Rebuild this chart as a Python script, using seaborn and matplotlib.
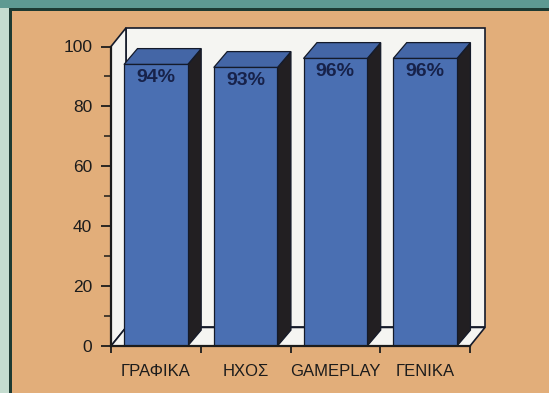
import matplotlib
matplotlib.use("Agg")
import matplotlib.pyplot as plt
import seaborn as sns
import pandas as pd
from matplotlib.patches import Polygon, Rectangle
from matplotlib.ticker import FixedLocator

# Review scores
categories = ["ΓΡΑΦΙΚΑ", "ΗΧΟΣ", "GAMEPLAY", "ΓΕΝΙΚΑ"]
scores = [94, 93, 96, 96]
score_labels = ["94%", "93%", "96%", "96%"]
y_ticks = [0, 20, 40, 60, 80, 100]
y_minor_ticks = [10, 30, 50, 70, 90]

TAN = "#e2ae7a"
TEAL = "#5e9a92"
PALE = "#c4dccf"
BORDER_DARK = "#1d3a32"
BLUE = "#4a6fb2"
BLUE_TOP = "#4466a6"
SIDE = "#221f22"
EDGE = "#141a2a"
WALL = "#f5f5f2"
INK = "#1c1c1c"

sns.set_theme(style="white")
plt.rcParams["font.family"] = ["Liberation Sans", "DejaVu Sans"]

fig = plt.figure(figsize=(5.49, 3.93), dpi=100)
fig.patch.set_facecolor(TAN)

W, H = 549.0, 393.0
# page border: teal band on top, pale band on the left, dark rule inside
fig.patches.append(Rectangle((0, 1 - 8 / H), 1, 8 / H, transform=fig.transFigure,
                             facecolor=TEAL, edgecolor="none", zorder=0))
fig.patches.append(Rectangle((0, 0), 9 / W, 1 - 8 / H, transform=fig.transFigure,
                             facecolor=PALE, edgecolor="none", zorder=0))
fig.patches.append(Rectangle((9 / W, 1 - 10.5 / H), 1, 2.5 / H, transform=fig.transFigure,
                             facecolor=BORDER_DARK, edgecolor="none", zorder=0))
fig.patches.append(Rectangle((9 / W, 0), 3 / W, 1 - 8 / H, transform=fig.transFigure,
                             facecolor=BORDER_DARK, edgecolor="none", zorder=0))

# axes: x from -0.5 (px 111) with 89.75 px per category, y 0 at px 346, 2.995 px per unit
x_lo, x_hi = -0.5, 3.72
y_lo, y_hi = 0, 108
px_x = 89.75
px_y = 2.995
left = 111
bottom = 346
ax = fig.add_axes([left / W, (H - bottom) / H,
                   (x_hi - x_lo) * px_x / W, (y_hi - y_lo) * px_y / H])
ax.set_facecolor("none")

df = pd.DataFrame({"category": categories, "score": scores})
sns.barplot(data=df, x="category", y="score", ax=ax, color=BLUE, saturation=1,
            width=0.71, edgecolor=EDGE, linewidth=0.9, zorder=3)

ax.set_xlim(x_lo, x_hi)
ax.set_ylim(y_lo, y_hi)

# back wall, side wall and floor
wdx, wdy = 0.167, 6.2
wall_kw = dict(facecolor=WALL, edgecolor=EDGE, linewidth=1.2, zorder=1, clip_on=False)
ax.add_patch(Polygon([(-0.5 + wdx, wdy), (3.5 + wdx, wdy), (3.5 + wdx, 100 + wdy),
                      (-0.5 + wdx, 100 + wdy)], **wall_kw))
ax.add_patch(Polygon([(-0.5, 0), (-0.5 + wdx, wdy), (-0.5 + wdx, 100 + wdy),
                      (-0.5, 100)], **wall_kw))
ax.add_patch(Polygon([(-0.5, 0), (3.5, 0), (3.5 + wdx, wdy), (-0.5 + wdx, wdy)], **wall_kw))

# depth faces and value labels on each bar
bdx, bdy = 0.15, 5.3
bars = list(ax.patches[:len(scores)])
for bar, label in zip(bars, score_labels):
    x0 = bar.get_x()
    w = bar.get_width()
    h = bar.get_height()
    ax.add_patch(Polygon([(x0 + w, 0), (x0 + w + bdx, bdy), (x0 + w + bdx, h + bdy), (x0 + w, h)],
                         facecolor=SIDE, edgecolor=EDGE, linewidth=0.9, zorder=2.9))
    ax.add_patch(Polygon([(x0, h), (x0 + w, h), (x0 + w + bdx, h + bdy), (x0 + bdx, h + bdy)],
                         facecolor=BLUE_TOP, edgecolor=EDGE, linewidth=0.9, zorder=2.9))
    ax.text(x0 + w / 2, h - 4.4, label, ha="center", va="center", fontsize=14,
            fontweight="bold", color="#17224a", zorder=4)

# spines
for s in ["top", "right"]:
    ax.spines[s].set_visible(False)
for s in ["left", "bottom"]:
    ax.spines[s].set_color(INK)
    ax.spines[s].set_linewidth(1.6)
    ax.spines[s].set_zorder(5)
ax.spines["left"].set_bounds(0, 100)
ax.spines["bottom"].set_bounds(-0.5, 3.5)

# y ticks
ax.yaxis.set_major_locator(FixedLocator(y_ticks))
ax.yaxis.set_minor_locator(FixedLocator(y_minor_ticks))
ax.set_yticklabels([str(v) for v in y_ticks])
ax.tick_params(axis="y", which="major", direction="out", length=7.5, width=1.3,
               color=INK, labelsize=12.5, labelcolor=INK, pad=6, left=True)
ax.tick_params(axis="y", which="minor", direction="out", length=5, width=1.1,
               color=INK, left=True)

# x ticks: labels under the bars, marks at the category boundaries
ax.xaxis.set_minor_locator(FixedLocator([-0.5, 0.5, 1.5, 2.5, 3.5]))
ax.tick_params(axis="x", which="major", length=0, labelsize=12, labelcolor=INK, pad=13)
ax.tick_params(axis="x", which="minor", direction="out", length=5, width=1.3,
               color=INK, bottom=True)

ax.set_xlabel("")
ax.set_ylabel("")

fig.savefig("out.png", dpi=100, facecolor=fig.get_facecolor())
